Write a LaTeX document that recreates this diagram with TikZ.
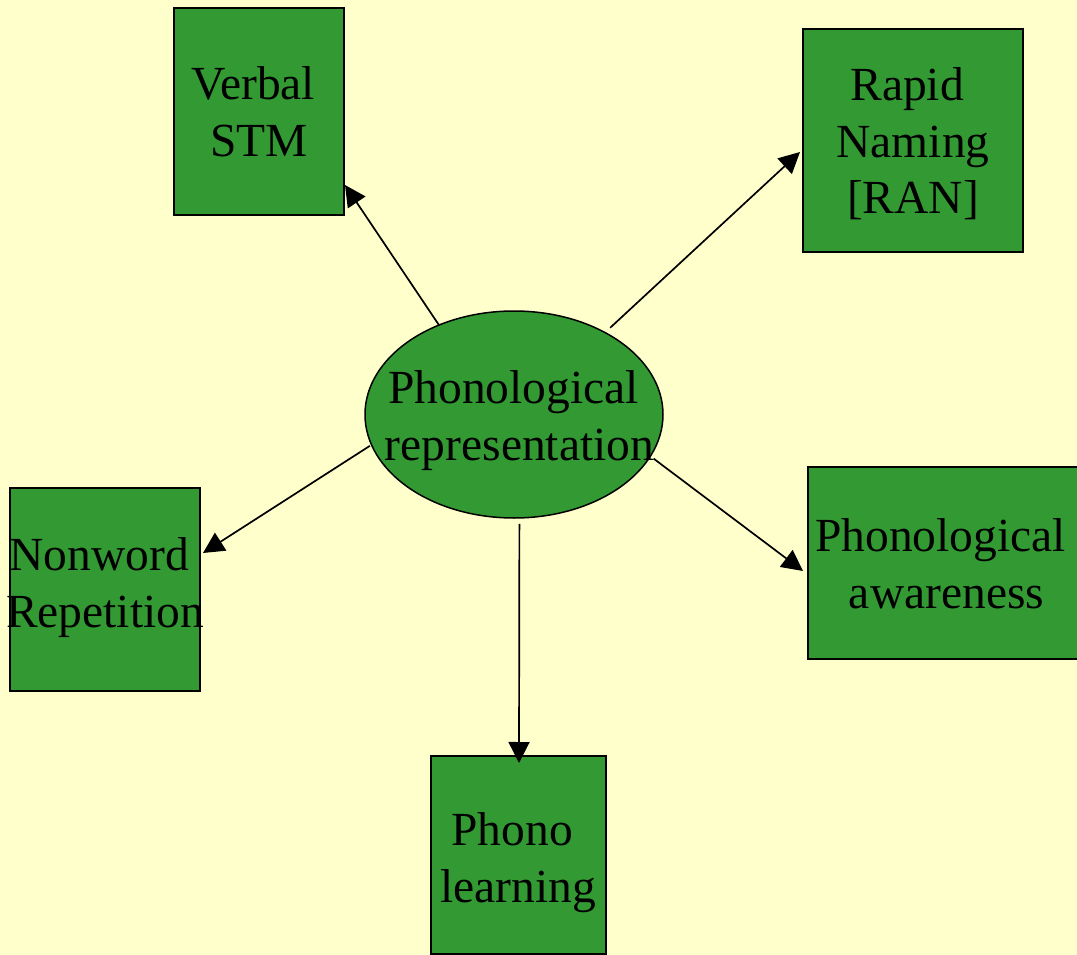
\documentclass[tikz,border=0pt]{standalone}
\usepackage{fontspec}
\setmainfont{Liberation Serif}
\usetikzlibrary{arrows.meta,shapes.geometric}
\definecolor{paper}{RGB}{255,255,204}
\definecolor{leaf}{RGB}{51,153,51}
% a visible-width space kept at the end of a centred line
\newcommand\tailspace{\hspace*{0.25em}}

\begin{document}
\begin{tikzpicture}[x=1pt,y=-1pt,
  box/.style={draw=black, fill=leaf, line width=1.5pt, rectangle, inner sep=0pt, outer sep=0pt},
  blob/.style={draw=black, fill=leaf, line width=1.5pt, ellipse, inner sep=0pt, outer sep=0pt,
               minimum width=298pt, minimum height=207pt},
  % multi-line labels sit on the baseline of their last line
  caption/.style={font=\fontsize{47.5}{57}\selectfont, align=center, anchor=base, inner sep=0pt},
  link/.style={line width=1.7pt, -{Triangle[length=21pt,width=21pt]}}]

  % page
  \useasboundingbox (0,0) rectangle (1077,955);
  \clip (0,0) rectangle (1077,955);
  \fill[paper] (0,0) rectangle (1077,955);

  % shapes
  \node[box, minimum width=170pt, minimum height=207pt] (stm) at (259,111.5) {};
  \node[box, minimum width=220pt, minimum height=223pt] (ran) at (913,140.5) {};
  \node[box, minimum width=190pt, minimum height=203pt] (nwr) at (105,589.5) {};
  \node[box, minimum width=175pt, minimum height=198pt] (phl) at (518.5,855) {};
  \node[box, minimum width=277pt, minimum height=192pt] (paw) at (946.5,563) {};
  \node[blob] (rep) at (514,414.5) {};

  % connectors from the central ellipse, starting just off its rim
  \draw[link] (rep.130.65) -- ([shift={(1,73.5)}]stm.east);
  \draw[link, shorten <=7pt] (rep.42.6) -- ([shift={(-3,11.5)}]ran.west);
  \draw[link, shorten <=2pt] (rep.192.7) -- ([shift={(3,-36.5)}]nwr.east);
  \draw[link, shorten <=4pt] (rep.-17.3) -- ([shift={(-5,8)}]paw.west);
  \draw[link, shorten <=6pt] (rep.-87.4) -- ([shift={(0.5,7)}]phl.north);

  % labels
  \node[caption] (stmtext) at (259,157) {Verbal\tailspace\\STM};
  \node[caption] (rantext) at (913,214) {Rapid\tailspace\\Naming\\{[RAN]}};
  \node[caption] (reptext) at (519.5,460) {Phonological\tailspace\\representation};
  \node[caption] (nwrtext) at (105,627) {Nonword\tailspace\\Repetition};
  \node[caption] (phltext) at (518,902) {Phono\tailspace\\learning};
  \node[caption] (pawtext) at (946.5,608) {Phonological\tailspace\\awareness};
\end{tikzpicture}
\end{document}
